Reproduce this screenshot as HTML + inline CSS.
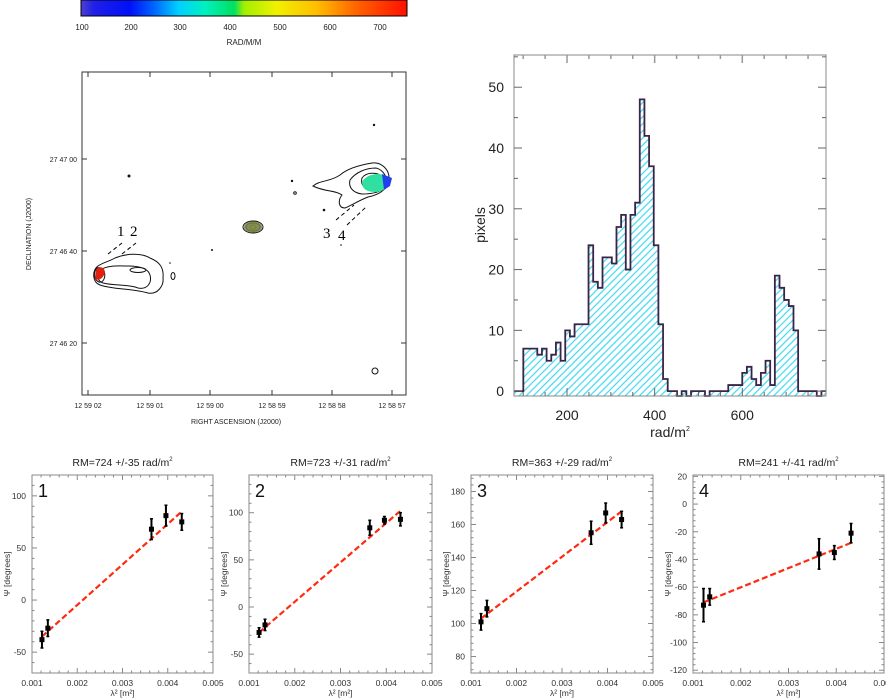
<!DOCTYPE html>
<html><head><meta charset="utf-8"><style>
html,body{margin:0;padding:0;background:#fff}
svg{display:block;font-family:"Liberation Sans",sans-serif}
</style></head><body>
<svg id="root" width="886" height="698" viewBox="0 0 886 698">
<defs>
<linearGradient id="cbg" x1="0" x2="1" y1="0" y2="0">
<stop offset="0" stop-color="#5040d0"/><stop offset="0.04" stop-color="#2020e8"/><stop offset="0.15" stop-color="#0010f8"/><stop offset="0.22" stop-color="#0060ff"/><stop offset="0.3" stop-color="#00d0ff"/><stop offset="0.38" stop-color="#00f0c0"/><stop offset="0.47" stop-color="#00e060"/><stop offset="0.5" stop-color="#a0f000"/><stop offset="0.6" stop-color="#f0f000"/><stop offset="0.72" stop-color="#ffc000"/><stop offset="0.85" stop-color="#ff6000"/><stop offset="1" stop-color="#ff1000"/>
</linearGradient>
<pattern id="hatch" width="5" height="5" patternUnits="userSpaceOnUse" patternTransform="rotate(-45)">
<rect width="5" height="5" fill="#fff"/><line x1="0" y1="2" x2="5" y2="2" stroke="#40d8f0" stroke-width="1.2"/>
</pattern>
</defs>
<g>
<rect x="81" y="0" width="326" height="16" fill="url(#cbg)" stroke="#000" stroke-width="1"/>
<g font-size="8" fill="#222" text-anchor="middle">
<text x="82" y="30">100</text><text x="131" y="30">200</text><text x="180" y="30">300</text><text x="230" y="30">400</text><text x="280" y="30">500</text><text x="330" y="30">600</text><text x="380" y="30">700</text>
<text x="244" y="45">RAD/M/M</text>
</g></g>
<g>
<rect x="82" y="72" width="324" height="323" fill="none" stroke="#333" stroke-width="1"/>
<g stroke="#333" stroke-width="1">
<line x1="88" y1="395" x2="88" y2="390"/><line x1="150" y1="395" x2="150" y2="390"/><line x1="210" y1="395" x2="210" y2="390"/><line x1="272" y1="395" x2="272" y2="390"/><line x1="332" y1="395" x2="332" y2="390"/><line x1="392" y1="395" x2="392" y2="390"/>
<line x1="88" y1="72" x2="88" y2="77"/><line x1="150" y1="72" x2="150" y2="77"/><line x1="210" y1="72" x2="210" y2="77"/><line x1="272" y1="72" x2="272" y2="77"/><line x1="332" y1="72" x2="332" y2="77"/><line x1="392" y1="72" x2="392" y2="77"/>
<line x1="82" y1="159" x2="87" y2="159"/><line x1="82" y1="251" x2="87" y2="251"/><line x1="82" y1="343" x2="87" y2="343"/>
<line x1="406" y1="159" x2="401" y2="159"/><line x1="406" y1="251" x2="401" y2="251"/><line x1="406" y1="343" x2="401" y2="343"/>
</g>
<g font-size="7" fill="#222" text-anchor="middle">
<text x="88" y="408">12 59 02</text><text x="150" y="408">12 59 01</text><text x="210" y="408">12 59 00</text><text x="272" y="408">12 58 59</text><text x="332" y="408">12 58 58</text><text x="392" y="408">12 58 57</text>
<text x="236" y="424">RIGHT ASCENSION (J2000)</text>
</g>
<g font-size="7" fill="#222" text-anchor="end">
<text x="77" y="162">27 47 00</text><text x="77" y="254">27 46 40</text><text x="77" y="346">27 46 20</text>
</g>
<text transform="translate(31,234) rotate(-90)" font-size="7" fill="#222" text-anchor="middle">DECLINATION (J2000)</text>
<g fill="none" stroke="#111" stroke-width="1">
<path d="M98,266 C92,270 92,282 100,285 C115,290 130,288 148,293 C158,295 164,285 163,278 C164,268 160,262 150,258 C140,252 125,254 115,258 C108,262 104,262 98,266Z"/>
<path d="M100,270 C96,274 97,281 103,283 C115,286 128,284 138,288 C148,290 152,282 150,275 C148,268 138,266 128,266 C118,266 108,265 100,270Z"/>
<path d="M97,268 C93,272 94,280 99,282 C104,283 106,276 104,271 C102,268 100,267 97,268Z"/>
<ellipse cx="138" cy="270" rx="8" ry="2.5"/>
<ellipse cx="173" cy="276" rx="2" ry="3.5"/>
<path d="M313,186 C320,180 330,182 340,175 C348,168 360,165 372,163 C382,162 390,170 389,180 C387,190 378,195 368,197 C360,200 352,205 345,208 C338,208 338,200 342,195 C335,190 325,192 313,186Z"/>
<path d="M350,180 C356,172 366,168 376,168 C384,170 388,178 386,186 C382,192 372,194 362,194 C354,193 348,188 350,180Z"/>
<path d="M362,178 C366,172 376,172 382,176 C386,182 382,190 374,190 C366,190 360,186 362,178Z"/>
<ellipse cx="253" cy="227" rx="10" ry="6"/>
<ellipse cx="253" cy="227" rx="7" ry="4" stroke="#cc0"/>
<ellipse cx="253" cy="227" rx="3" ry="2" stroke="#ee0"/>
<circle cx="375" cy="371" r="3"/>
<circle cx="295" cy="193" r="1.3"/>
</g>
<g fill="#111"><circle cx="129" cy="176" r="1.5"/><circle cx="292" cy="181" r="1.2"/><circle cx="324" cy="210" r="1.3"/><circle cx="212" cy="250" r="1"/><circle cx="374" cy="125" r="1.2"/><circle cx="170" cy="263" r="0.8"/><circle cx="341" cy="245" r="0.8"/></g>
<path d="M96,270 C98,266 104,266 105,272 C104,278 98,282 95,278Z" fill="#e02010"/>
<path d="M362,182 C366,174 380,172 386,176 C392,182 386,192 376,192 C368,192 362,190 362,182Z" fill="#30e0a0"/>
<path d="M382,174 L392,178 L390,186 L384,190Z" fill="#2040f0"/>
<ellipse cx="253" cy="227" rx="9" ry="5.5" fill="#304010" opacity="0.6"/>
<g stroke="#000" stroke-width="1" stroke-dasharray="4,3"><line x1="108" y1="254" x2="122" y2="243"/><line x1="122" y1="254" x2="136" y2="243"/><line x1="336" y1="220" x2="354" y2="205"/><line x1="347" y1="225" x2="366" y2="207"/></g>
<g font-family="Liberation Serif,serif" font-size="15" fill="#000"><text x="117" y="236">1</text><text x="130" y="236">2</text><text x="323" y="238">3</text><text x="338" y="240">4</text></g>
</g>
<g id="hist"></g>
<g id="panels"></g>
</svg>
<script>
// Histogram data
const histStart = 79;
const histBinWidth = 10.63;
const histCounts = [0,0,7,7,7,6,7,5,6,8,5,10,9,11,11,11,24,18,17,22,22,21,27,29,20,29,31,48,42,37,24,11,2,0,0,-0.8,0,-0.8,0,0,0,-0.8,0,0,0,0,1,1,1,3,4,2,1,3,5,1,19,17,15,14,10,0,0,0,0,-0.8,0];
const histXTicks = [200,400,600];
const histYTicks = [0,10,20,30,40,50];

// Fit panels data
const lambda2 = [0.00122,0.00135,0.00364,0.00396,0.00431];
const panelTitles = ["RM=724 +/-35 rad/m","RM=723 +/-31 rad/m","RM=363 +/-29 rad/m","RM=241 +/-41 rad/m"];
const psi1 = [-38,-27,68,81,75];  const err1 = [8,8,10,10,8];  const fit1 = [-35,85];
const psi2 = [-27,-19,84,92,93];  const err2 = [5,6,8,4,7];    const fit2 = [-27,102];
const psi3 = [101,109,155,167,163]; const err3 = [5,5,7,6,5];  const fit3 = [103,168];
const psi4 = [-73,-67,-36,-35,-21]; const err4 = [12,6,11,5,7]; const fit4 = [-71,-28];
const yTicks1 = [-50,0,50,100];
const yTicks2 = [-50,0,50,100];
const yTicks3 = [80,100,120,140,160,180];
const yTicks4 = [-120,-100,-80,-60,-40,-20,0,20];
const xTicksP = [0.001,0.002,0.003,0.004,0.005];

const NS="http://www.w3.org/2000/svg";
function mk(tag,attrs,parent,txt){const e=document.createElementNS(NS,tag);for(const k in attrs)e.setAttribute(k,attrs[k]);if(txt!==undefined)e.textContent=txt;parent.appendChild(e);return e;}

// ---- histogram ----
(function(){
const g=document.getElementById('hist');
const L=514,R=826,T=55,B=396;
const x=v=>L+(v-79)/(791-79)*(R-L);
const y=v=>B-(v+0.8)/(55.3+0.8)*(B-T);
let d=`M${x(histStart)},${y(histCounts[0])}`;
let fill=`M${x(histStart)},${B}`;
histCounts.forEach((c,i)=>{const x0=x(histStart+i*histBinWidth),x1=x(histStart+(i+1)*histBinWidth);d+=` L${x0},${y(c)} L${x1},${y(c)}`;fill+=` L${x0},${y(c)} L${x1},${y(c)}`;});
fill+=` L${x(histStart+histCounts.length*histBinWidth)},${B}Z`;
const f=mk('path',{d:fill,fill:'url(#hatch)'},g);


const o=mk('path',{d:d,fill:'none',stroke:'#3a2448','stroke-width':1.8},g);


mk('rect',{x:L,y:T,width:R-L,height:B-T,fill:'none',stroke:'#888','stroke-width':1},g);
for(let v=100;v<=780;v+=50){const big=v%200===0;mk('line',{x1:x(v),x2:x(v),y1:B,y2:B-(big?8:4),stroke:'#666'},g);mk('line',{x1:x(v),x2:x(v),y1:T,y2:T+(big?8:4),stroke:'#999','stroke-width':1.5},g);}
for(let v=0;v<=55;v+=5){const big=v%10===0;mk('line',{x1:L,x2:L+(big?8:4),y1:y(v),y2:y(v),stroke:'#666'},g);mk('line',{x1:R,x2:R-(big?8:4),y1:y(v),y2:y(v),stroke:'#666'},g);}
histXTicks.forEach(v=>{const t=mk('text',{x:x(v),y:B+24,'font-size':14,'text-anchor':'middle',fill:'#222'},g,String(v));});
histYTicks.forEach(v=>{const t=mk('text',{x:L-10,y:y(v)+5,'font-size':14,'text-anchor':'end',fill:'#222'},g,String(v));});
const xt=mk('text',{x:670,y:437,'font-size':14,'text-anchor':'middle',fill:'#222'},g,'rad/m');
mk('tspan',{'font-size':7,dy:-6},xt,'2');


const yt=mk('text',{transform:'translate(485,225) rotate(-90)','font-size':14,'text-anchor':'middle',fill:'#222'},g,'pixels');


})();

// ---- panels ----
(function(){
const root=document.getElementById('panels');
const boxes=[[32,213,-70,120],[249,432,-70,140],[471,653,70,190],[693,884,-122,21]];
const psis=[psi1,psi2,psi3,psi4],errs=[err1,err2,err3,err4],fits=[fit1,fit2,fit3,fit4],yts=[yTicks1,yTicks2,yTicks3,yTicks4];
const T=475,B=673;
boxes.forEach((bx,p)=>{
const [L,R,y0,y1]=bx;
const g=mk('g',{},root);


const x=v=>L+(v-0.001)/0.004*(R-L);
const y=v=>B-(v-y0)/(y1-y0)*(B-T);
mk('rect',{x:L,y:T,width:R-L,height:B-T,fill:'none',stroke:'#888'},g);
for(let v=0.001;v<=0.00501;v+=0.0002){const big=Math.abs(v*1000-Math.round(v*1000))<1e-6;mk('line',{x1:x(v),x2:x(v),y1:B,y2:B-(big?5:2.5),stroke:'#888'},g);mk('line',{x1:x(v),x2:x(v),y1:T,y2:T+(big?5:2.5),stroke:'#888'},g);}
const step=yts[p][1]-yts[p][0];
for(let v=Math.ceil(y0/(step/5))*(step/5);v<=y1;v+=step/5){const big=Math.abs(v/step-Math.round(v/step))<1e-6;mk('line',{x1:L,x2:L+(big?5:2.5),y1:y(v),y2:y(v),stroke:'#888'},g);mk('line',{x1:R,x2:R-(big?5:2.5),y1:y(v),y2:y(v),stroke:'#888'},g);}
xTicksP.forEach(v=>{const t=mk('text',{x:x(v),y:B+13,'font-size':8.5,'text-anchor':'middle',fill:'#333'},g,v.toFixed(3));});
yts[p].forEach(v=>{const t=mk('text',{x:L-6,y:y(v)+3,'font-size':8.5,'text-anchor':'end',fill:'#333'},g,String(v));});
const tt=mk('text',{x:(L+R)/2,y:466,'font-size':10.5,'text-anchor':'middle',fill:'#222'},g,panelTitles[p]);
mk('tspan',{'font-size':6,dy:-5},tt,'2');


const n=mk('text',{x:L+6,y:T+22,'font-size':18,fill:'#111'},g,String(p+1));


const xl=mk('text',{x:(L+R)/2,y:B+23,'font-size':8.5,'text-anchor':'middle',fill:'#333'},g,'λ² [m²]');


const yl=mk('text',{transform:`translate(${L-22},${(T+B)/2}) rotate(-90)`,'font-size':8.5,'text-anchor':'middle',fill:'#333'},g,'Ψ [degrees]');


const fl=mk('line',{x1:x(lambda2[0]),y1:y(fits[p][0]),x2:x(lambda2[4]),y2:y(fits[p][1]),stroke:'#ff2a10','stroke-width':2.2,'stroke-dasharray':'6,3'},g);


lambda2.forEach((lv,i)=>{
const px=x(lv),py=y(psis[p][i]),e=errs[p][i];
const eb=mk('line',{x1:px,x2:px,y1:y(psis[p][i]-e),y2:y(psis[p][i]+e),stroke:'#000','stroke-width':2},g);


mk('line',{x1:px-1.5,x2:px+1.5,y1:y(psis[p][i]-e),y2:y(psis[p][i]-e),stroke:'#000','stroke-width':1.5},g);
mk('line',{x1:px-1.5,x2:px+1.5,y1:y(psis[p][i]+e),y2:y(psis[p][i]+e),stroke:'#000','stroke-width':1.5},g);
const pt=mk('rect',{x:px-2.5,y:py-2.5,width:5,height:5,fill:'#000'},g);


});
});
})();
</script>
</body></html>
